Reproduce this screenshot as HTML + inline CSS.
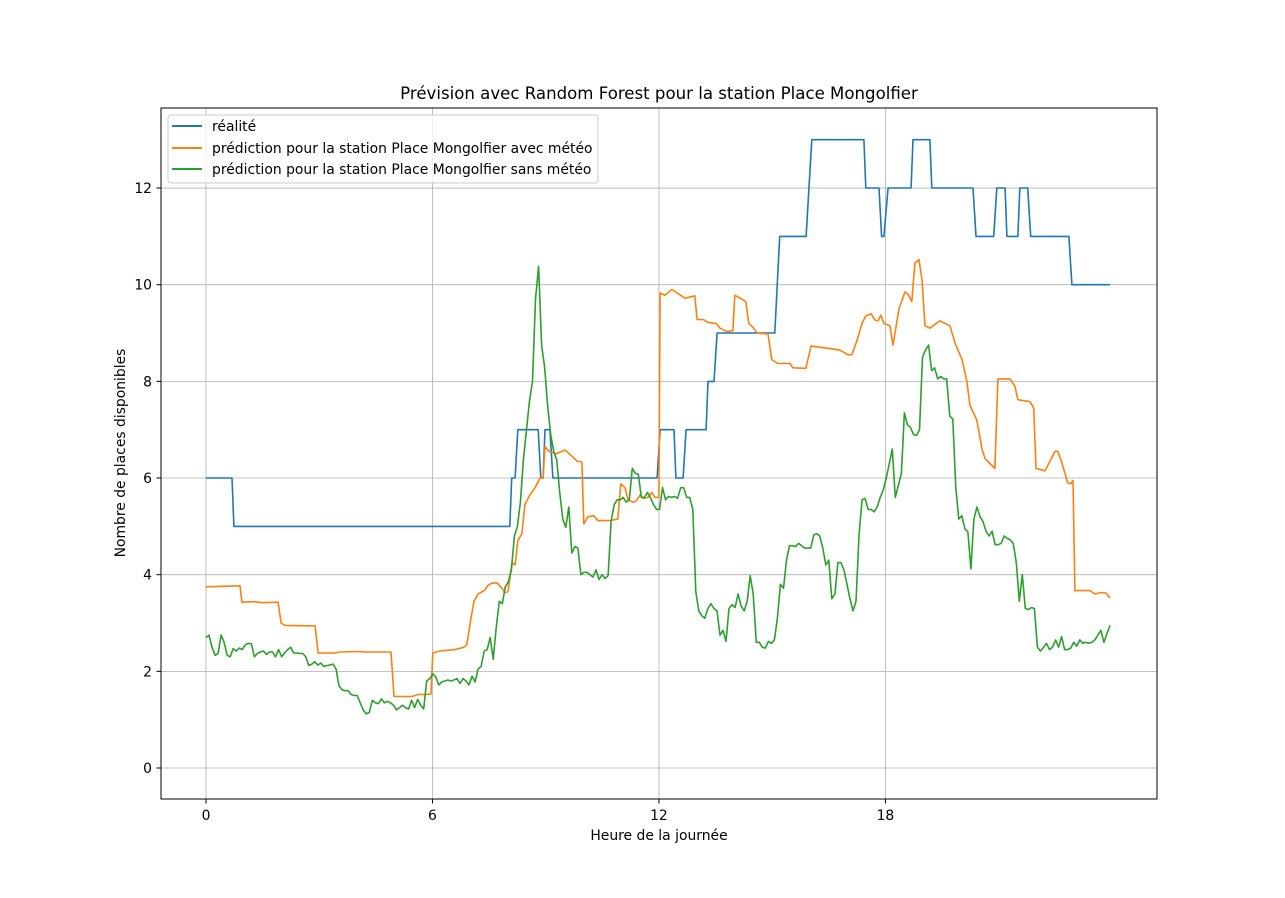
<!DOCTYPE html>
<html><head><meta charset="utf-8"><style>
body{margin:0;background:#fff;}
svg{display:block;font-family:"DejaVu Sans","Liberation Sans",sans-serif;}
</style></head><body>
<svg id="chart" width="1285" height="898" xmlns="http://www.w3.org/2000/svg">
<rect width="1285" height="898" fill="#fff"/>
<g id="grid"></g>
<g id="series"></g>
<rect x="161" y="108" width="996" height="691" fill="none" stroke="#000" stroke-width="1"/>
<g id="ticks"></g>
<text x="659" y="99" font-size="16.6" text-anchor="middle">Prévision avec Random Forest pour la station Place Mongolfier</text>
<text x="659" y="840" font-size="13.9" text-anchor="middle">Heure de la journée</text>
<text x="125" y="453" font-size="13.9" text-anchor="middle" transform="rotate(-90 125 453)">Nombre de places disponibles</text>
<g>
<rect x="168" y="115" width="430" height="68" rx="3" fill="#fff" fill-opacity="0.8" stroke="#ccc"/>
<g><line x1="172" y1="126" x2="202" y2="126" stroke="#1f77b4" stroke-width="2"/><text x="212" y="131" font-size="13.9">réalité</text></g>
<g><line x1="172" y1="148" x2="202" y2="148" stroke="#ff7f0e" stroke-width="2"/><text x="212" y="153" font-size="13.9">prédiction pour la station Place Mongolfier avec météo</text></g>
<g><line x1="172" y1="169" x2="202" y2="169" stroke="#2ca02c" stroke-width="2"/><text x="212" y="174" font-size="13.9">prédiction pour la station Place Mongolfier sans météo</text></g>
</g>
</svg>
<script>
const xTicks=[0,6,12,18];
const yTicks=[0,2,4,6,8,10,12];
const blueT=[0,0.69,0.74,8.05,8.1,8.19,8.26,8.8,8.87,8.93,8.98,9.11,9.19,11.95,12.03,12.4,12.45,12.64,12.72,13.25,13.3,13.46,13.54,15.07,15.2,15.9,16.05,17.43,17.48,17.83,17.9,17.96,18.07,18.68,18.73,19.18,19.23,20.32,20.4,20.87,20.95,21.17,21.22,21.51,21.56,21.77,21.85,22.86,22.94,23.95];
const blueV=[6,6,5,5,6,6,7,7,6,6,7,7,6,6,7,7,6,6,7,7,8,8,9,9,11,11,13,13,12,12,11,11,12,12,13,13,12,12,11,11,12,12,11,11,12,12,11,11,10,10];
const orangeT=[0,0.90,0.95,1.30,1.48,1.91,1.99,2.09,2.89,2.97,3.42,3.55,3.95,4.21,4.90,4.98,5.46,5.62,5.80,5.96,6.01,6.20,6.60,6.83,6.91,7.02,7.10,7.21,7.39,7.47,7.58,7.71,7.84,7.92,8.00,8.11,8.19,8.26,8.37,8.45,8.58,8.72,8.85,8.93,8.98,9.09,9.27,9.51,9.70,9.83,9.96,10.01,10.12,10.28,10.38,10.70,10.91,10.99,11.10,11.18,11.31,11.39,11.50,11.58,11.71,11.81,11.89,11.95,12.0,12.03,12.16,12.34,12.50,12.69,12.95,13.01,13.17,13.30,13.51,13.62,13.80,13.96,14.01,14.20,14.30,14.38,14.49,14.60,14.89,14.99,15.15,15.47,15.55,15.89,16.03,16.79,17.01,17.11,17.25,17.38,17.48,17.62,17.72,17.80,17.88,17.96,18.12,18.20,18.36,18.52,18.60,18.70,18.78,18.89,18.97,19.05,19.18,19.44,19.71,19.84,20.03,20.16,20.24,20.42,20.56,20.64,20.90,20.98,21.30,21.43,21.51,21.83,21.93,21.99,22.23,22.36,22.49,22.57,22.68,22.83,22.91,22.97,23.02,23.42,23.55,23.68,23.84,23.95];
const orangeV=[3.75,3.77,3.43,3.44,3.42,3.43,3.0,2.95,2.94,2.38,2.38,2.40,2.41,2.40,2.40,1.48,1.48,1.52,1.52,1.53,2.38,2.42,2.45,2.5,2.55,3.1,3.45,3.6,3.68,3.78,3.83,3.83,3.72,3.63,3.65,4.25,4.2,4.7,4.85,5.45,5.65,5.8,6.0,6.0,6.65,6.55,6.5,6.58,6.45,6.35,6.33,5.05,5.2,5.22,5.12,5.12,5.15,5.88,5.8,5.55,5.5,5.52,5.65,5.58,5.6,5.7,5.6,5.6,5.6,9.83,9.78,9.9,9.82,9.72,9.77,9.28,9.28,9.22,9.2,9.1,9.03,9.05,9.78,9.7,9.65,9.2,9.12,9.0,8.98,8.45,8.37,8.37,8.28,8.27,8.73,8.65,8.55,8.55,8.85,9.2,9.35,9.4,9.27,9.25,9.37,9.2,9.15,8.75,9.5,9.85,9.8,9.65,10.45,10.52,10.1,9.15,9.1,9.25,9.15,8.8,8.45,8.0,7.5,7.2,6.6,6.4,6.2,8.05,8.05,7.9,7.62,7.58,7.45,6.2,6.15,6.35,6.55,6.55,6.3,5.9,5.88,5.95,3.67,3.67,3.6,3.63,3.62,3.52];
const greenV=[2.7,2.75,2.5,2.33,2.37,2.75,2.6,2.33,2.3,2.47,2.42,2.48,2.45,2.55,2.58,2.57,2.3,2.37,2.4,2.42,2.35,2.4,2.4,2.3,2.45,2.3,2.38,2.45,2.5,2.38,2.38,2.37,2.37,2.3,2.12,2.15,2.2,2.13,2.17,2.1,2.12,2.13,2.15,2.05,1.7,1.62,1.6,1.6,1.52,1.5,1.5,1.35,1.2,1.12,1.15,1.4,1.35,1.33,1.43,1.35,1.38,1.35,1.3,1.2,1.25,1.3,1.25,1.22,1.4,1.25,1.42,1.3,1.22,1.8,1.85,1.95,1.88,1.72,1.78,1.8,1.82,1.8,1.82,1.85,1.75,1.85,1.8,1.72,1.9,1.78,2.05,2.1,2.42,2.45,2.7,2.25,2.9,3.45,3.4,3.75,3.85,4.1,4.8,5.0,5.5,6.4,7.0,7.6,8.0,9.7,10.38,8.75,8.3,7.5,6.9,6.55,6.38,5.7,5.15,4.98,5.4,4.45,4.58,4.55,4.0,4.05,4.05,4.0,3.95,4.1,3.9,4.0,3.92,3.98,5.1,5.45,5.55,5.55,5.6,5.5,5.55,6.2,6.1,6.08,5.6,5.6,5.7,5.6,5.45,5.35,5.35,5.8,5.55,5.62,5.6,5.62,5.58,5.8,5.8,5.6,5.6,5.35,3.65,3.25,3.15,3.1,3.3,3.4,3.3,3.25,2.75,2.85,2.62,3.3,3.38,3.32,3.6,3.35,3.25,3.45,3.98,3.6,2.6,2.6,2.5,2.48,2.62,2.58,2.65,3.1,3.8,3.72,4.3,4.6,4.6,4.58,4.65,4.6,4.55,4.55,4.55,4.82,4.85,4.8,4.55,4.2,4.3,3.5,3.6,4.25,4.25,4.1,3.8,3.5,3.25,3.45,4.85,5.55,5.58,5.35,5.35,5.3,5.4,5.6,5.75,6.0,6.3,6.6,5.6,5.85,6.1,7.35,7.1,7.05,6.9,6.88,7.0,8.5,8.65,8.75,8.22,8.28,8.05,8.1,8.05,8.05,7.28,7.22,5.8,5.15,5.22,4.95,4.88,4.12,5.15,5.4,5.2,5.1,4.9,4.8,4.9,4.62,4.62,4.65,4.8,4.75,4.72,4.65,4.25,3.45,4.0,3.3,3.28,3.32,3.3,2.5,2.42,2.5,2.58,2.45,2.5,2.65,2.5,2.72,2.45,2.45,2.48,2.6,2.52,2.65,2.58,2.6,2.58,2.6,2.65,2.75,2.85,2.6,2.78,2.95];
const greenEnd=23.95;

const NS='http://www.w3.org/2000/svg';
const xs=t=>206+t*37.745;
const ys=v=>768-v*48.33;
const grid=document.getElementById('grid'),ticks=document.getElementById('ticks'),ser=document.getElementById('series');
function mk(tag,attrs,parent){const e=document.createElementNS(NS,tag);for(const k in attrs)e.setAttribute(k,attrs[k]);parent.appendChild(e);return e;}
xTicks.forEach(t=>{
  const g=mk('line',{x1:xs(t),x2:xs(t),y1:108,y2:799,stroke:'#b0b0b0','stroke-width':0.8},grid);
  
  
  const tk=mk('line',{x1:xs(t),x2:xs(t),y1:799,y2:803.5,stroke:'#000'},ticks);
  
  
  const tx=mk('text',{x:xs(t),y:820,'font-size':13.9,'text-anchor':'middle'},ticks);
  tx.textContent=t;
  
  
});
yTicks.forEach(v=>{
  const g=mk('line',{x1:161,x2:1157,y1:ys(v),y2:ys(v),stroke:'#b0b0b0','stroke-width':0.8},grid);
  
  
  const tk=mk('line',{x1:156.5,x2:161,y1:ys(v),y2:ys(v),stroke:'#000'},ticks);
  
  
  const tx=mk('text',{x:152,y:ys(v)+5,'font-size':13.9,'text-anchor':'end'},ticks);
  tx.textContent=v;
  
  
});
function line(T,V,color){return mk('polyline',{points:T.map((t,i)=>xs(t).toFixed(1)+','+ys(V[i]).toFixed(1)).join(' '),fill:'none',stroke:color,'stroke-width':1.6,'stroke-linejoin':'round'},ser);}
const greenT=greenV.map((_,i)=>i*greenEnd/(greenV.length-1));
const lb=line(blueT,blueV,'#1f77b4');


const lo=line(orangeT,orangeV,'#ff7f0e');


const lg=line(greenT,greenV,'#2ca02c');


</script>
</body></html>
